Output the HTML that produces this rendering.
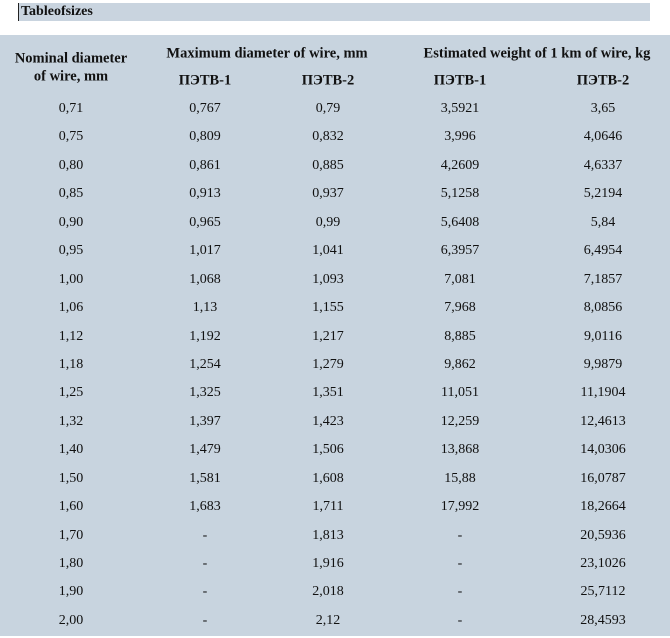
<!DOCTYPE html>
<html><head><meta charset="utf-8"><style>
body{margin:0;width:670px;height:638px;background:#fff;position:relative;overflow:hidden;font-family:"Liberation Serif",serif;color:#111}
#title{position:absolute;left:18px;top:3px;width:632px;height:18px;background:#c9d4df;font-size:14px;font-weight:bold;line-height:18px;padding-left:2px;box-sizing:border-box;border-left:1px solid #222}
#tbl{position:absolute;left:0;top:35px;width:670px;height:601px;background:#c8d4df}
.c{position:absolute;transform:translate(-50%,-50%);white-space:nowrap;font-size:14px}
.h{font-weight:bold;font-size:14.5px}
</style></head><body>
<div id="title">Tableofsizes</div>
<div id="tbl"></div>
<script>
const nominal=["0,71","0,75","0,80","0,85","0,90","0,95","1,00","1,06","1,12","1,18","1,25","1,32","1,40","1,50","1,60","1,70","1,80","1,90","2,00"];
const maxDia1=["0,767","0,809","0,861","0,913","0,965","1,017","1,068","1,13","1,192","1,254","1,325","1,397","1,479","1,581","1,683","-","-","-","-"];
const maxDia2=["0,79","0,832","0,885","0,937","0,99","1,041","1,093","1,155","1,217","1,279","1,351","1,423","1,506","1,608","1,711","1,813","1,916","2,018","2,12"];
const weight1=["3,5921","3,996","4,2609","5,1258","5,6408","6,3957","7,081","7,968","8,885","9,862","11,051","12,259","13,868","15,88","17,992","-","-","-","-"];
const weight2=["3,65","4,0646","4,6337","5,2194","5,84","6,4954","7,1857","8,0856","9,0116","9,9879","11,1904","12,4613","14,0306","16,0787","18,2664","20,5936","23,1026","25,7112","28,4593"];
const body=document.body;
function put(txt,x,y,cls,name){
  const d=document.createElement('div');
  d.className='c '+(cls||'');
  d.style.left=x+'px';d.style.top=y+'px';
  d.textContent=txt;
  
  
  body.appendChild(d);
}
put("Nominal diameter",71,59,'h','header-nominal-line1');
put("of wire, mm",71,77,'h','header-nominal-line2');
put("Maximum diameter of wire, mm",267,54,'h','header-max-diameter');
put("Estimated weight of 1 km of wire, kg",537,54,'h','header-weight');
put("ПЭТВ-1",205,81,'h','header-max-petv1');
put("ПЭТВ-2",328,81,'h','header-max-petv2');
put("ПЭТВ-1",460,81,'h','header-weight-petv1');
put("ПЭТВ-2",603,81,'h','header-weight-petv2');
const cols=[nominal,maxDia1,maxDia2,weight1,weight2];
const xs=[71,205,328,460,603];
const names=['nominal','max-petv1','max-petv2','weight-petv1','weight-petv2'];
for(let r=0;r<nominal.length;r++){
  const y=109+r*28.44;
  for(let c=0;c<5;c++) put(cols[c][r],xs[c],y,'','cell-'+names[c]);
}
</script>
</body></html>
